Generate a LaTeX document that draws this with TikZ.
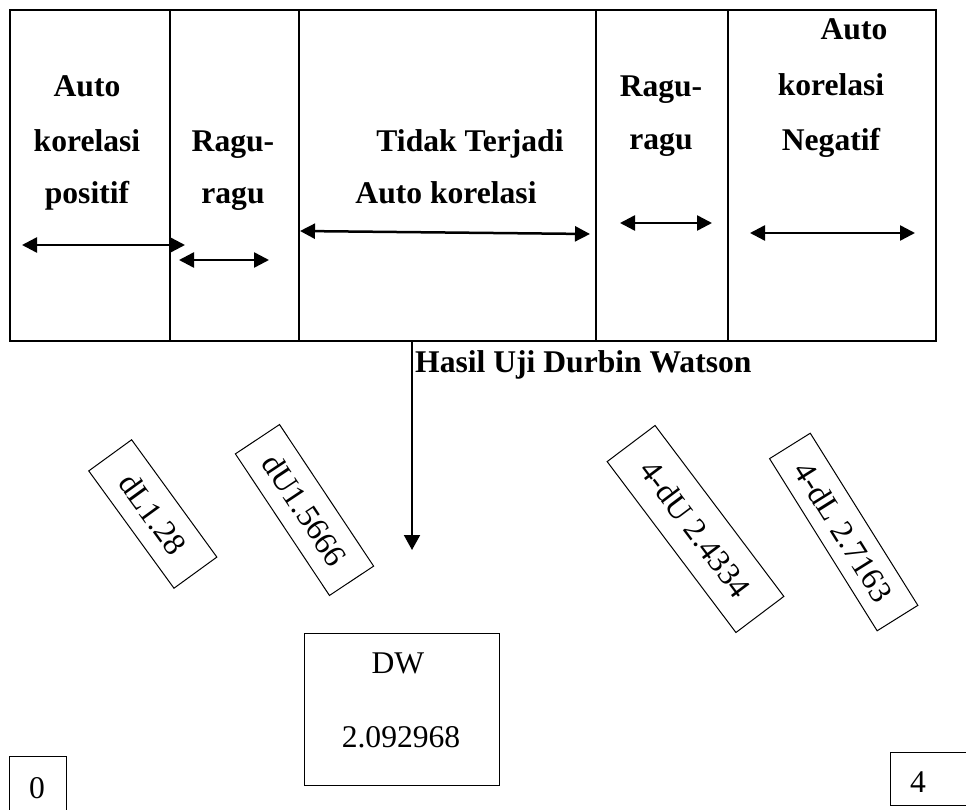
\documentclass[tikz,border=0pt]{standalone}
\usepackage{fontspec}
\setmainfont{Liberation Serif}
\usetikzlibrary{arrows.meta}
\begin{document}
\begin{tikzpicture}[x=1pt,y=-1pt,
  hd/.style={font=\fontsize{31.6}{38}\selectfont\bfseries, inner sep=0pt, anchor=base},
  rg/.style={font=\fontsize{31.6}{38}\selectfont, inner sep=0pt, anchor=base},
  rotbox/.style={draw, line width=1pt, font=\fontsize{32}{38}\selectfont, inner sep=0pt},
  grid/.style={line width=2pt},
  dbl/.style={line width=2.5pt, {Triangle[length=15pt,width=15pt]}-{Triangle[length=15pt,width=15pt]}},
  down/.style={line width=2pt, -{Triangle[length=15pt,width=16pt]}},
  smallbox/.style={draw, line width=1pt, inner sep=0pt}
]
\useasboundingbox (0,0) rectangle (966,810);
\clip (0,0) rectangle (966,810);
% table
\draw[grid] (10,10) rectangle (936,341);
\draw[grid] (170,10) -- (170,341);
\draw[grid] (299,10) -- (299,341);
\draw[grid] (596,10) -- (596,341);
\draw[grid] (728,10) -- (728,341);
% column texts
\node[hd] (c1a) at (87,97) {Auto};
\node[hd] (c1b) at (87,152) {korelasi};
\node[hd] (c1c) at (87,204) {positif};
\node[hd] (c2a) at (233,152) {Ragu-};
\node[hd] (c2b) at (233,204) {ragu};
\node[hd] (c3a) at (470,152) {Tidak Terjadi};
\node[hd] (c3b) at (446,204) {Auto korelasi};
\node[hd] (c4a) at (661,97) {Ragu-};
\node[hd] (c4b) at (661,150) {ragu};
\node[hd] (c5a) at (854,40) {Auto};
\node[hd] (c5b) at (831,96) {korelasi};
\node[hd] (c5c) at (831,151) {Negatif};
% arrows in table
\coordinate (a1l) at (22,245); \coordinate (a1r) at (185,245);
\coordinate (a2l) at (179,260); \coordinate (a2r) at (269,260);
\coordinate (a3l) at (300,231); \coordinate (a3r) at (590,234);
\coordinate (a4l) at (620,223); \coordinate (a4r) at (712,223);
\coordinate (a5l) at (750,233); \coordinate (a5r) at (915,233);
\draw[dbl] (a1l) -- (a1r);
\draw[dbl] (a2l) -- (a2r);
\draw[dbl] (a3l) -- (a3r);
\draw[dbl] (a4l) -- (a4r);
\draw[dbl] (a5l) -- (a5r);
% vertical arrow
\coordinate (vtop) at (412,341);
\coordinate (vend) at (412,550);
\draw[down] (vtop) -- (vend);
\node[hd, anchor=base west] (hasil) at (415,372) {Hasil Uji Durbin Watson};
% rotated boxes
\node[rotbox, rotate=-54, minimum width=145pt, minimum height=53pt] (dl) at (152.8,514) {dL1.28};
\node[rotbox, rotate=-56.4, minimum width=170pt, minimum height=53pt] (du) at (304.5,510) {dU1.5666};
\node[rotbox, rotate=-53, minimum width=214pt, minimum height=60pt] (fdu) at (695.5,529) {4-dU 2.4334};
\node[rotbox, rotate=-58, minimum width=203pt, minimum height=48pt] (fdl) at (843.7,532) {4-dL 2.7163};
% DW box
\node[smallbox, minimum width=195pt, minimum height=152pt] (dwbox) at (401.5,709) {};
\node[rg] (dw) at (398,673) {DW};
\node[rg] (dwv) at (401,747) {2.092968};
% 0 and 4 boxes
\node[smallbox, minimum width=57pt, minimum height=74pt] (zerobox) at (37.5,793) {};
\node[rg] (zero) at (37,798) {0};
\node[smallbox, minimum width=80pt, minimum height=53pt] (fourbox) at (930,778.5) {};
\node[rg] (four) at (918,792) {4};
\end{tikzpicture}
\end{document}
